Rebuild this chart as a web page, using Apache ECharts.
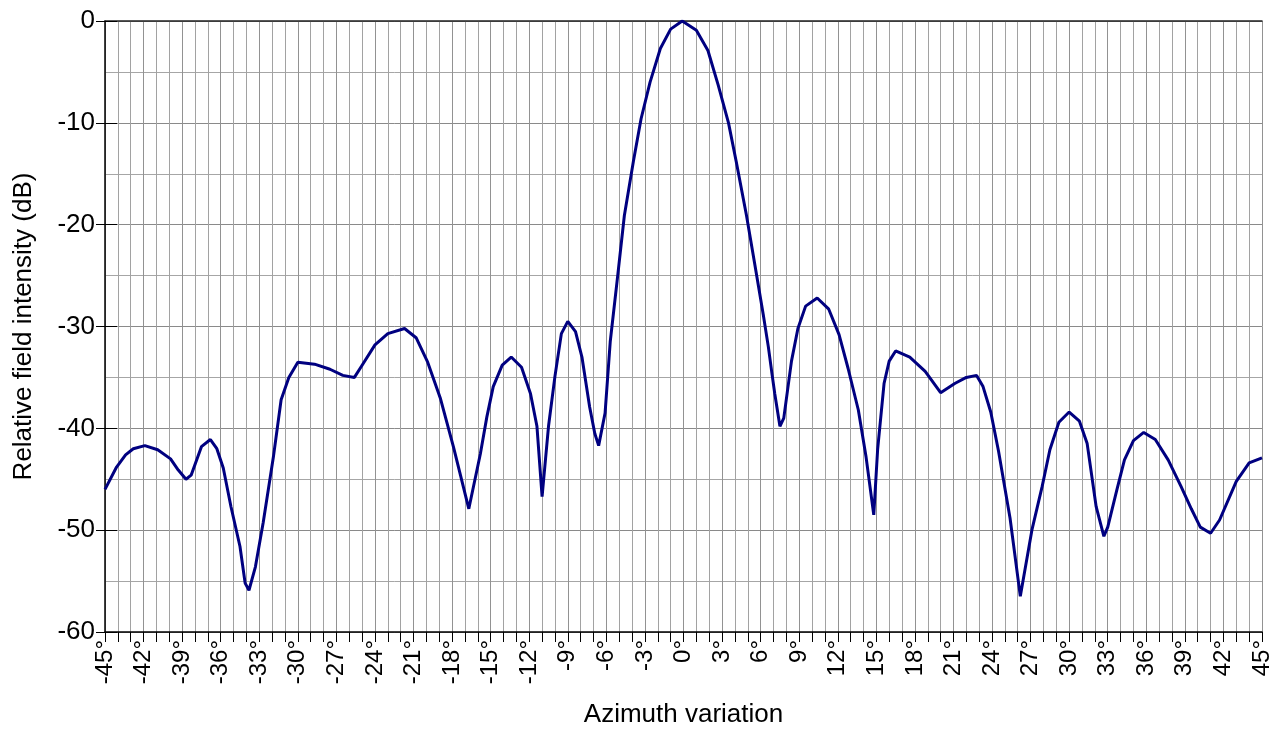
<!DOCTYPE html>
<html>
<head>
<meta charset="utf-8">
<script src="https://cdn.jsdelivr.net/npm/echarts@6/dist/echarts.min.js"></script>
<style>
html,body{margin:0;padding:0;background:#fff;}
#chart{width:1283px;height:729px;}
</style>
</head>
<body>
<div id="chart"></div>
<script>
// Azimuth (degrees)
var azimuth = [
  -45.0,-44.1,-43.4,-42.8,-41.9,-40.9,-39.9,-39.3,-38.7,-38.3,
  -37.5,-36.8,-36.3,-35.8,-35.2,-34.5,-34.1,-33.8,-33.3,-32.7,
  -31.9,-31.3,-30.7,-30.0,-28.7,-27.5,-26.5,-25.6,-25.0,-24.0,
  -23.0,-21.7,-20.8,-19.9,-18.9,-17.9,-16.7,-15.8,-15.3,-14.8,
  -14.1,-13.4,-12.6,-11.9,-11.4,-11.0,-10.5,-10.0,-9.5,-9.0,
  -8.4,-7.9,-7.3,-6.9,-6.6,-6.1,-5.7,-5.1,-4.6,-3.9,
  -3.3,-2.6,-1.8,-1.0,-0.1,1.0,1.9,2.7,3.5,4.1,
  4.9,5.6,6.2,6.6,6.9,7.1,7.5,7.8,8.4,8.9,
  9.5,10.4,11.3,12.1,12.8,13.6,14.2,14.8,15.1,15.6,
  16.0,16.5,17.6,18.8,20.0,21.1,22.0,22.8,23.3,23.9,
  24.5,25.4,26.2,27.1,27.9,28.5,29.2,30.0,30.8,31.4,
  32.1,32.7,33.0,33.7,34.3,35.0,35.8,36.7,37.7,38.7,
  39.5,40.2,41.0,41.7,43.0,44.0,45.0
];
// Relative field intensity (dB)
var intensity = [
  -46.0,-43.8,-42.6,-42.0,-41.7,-42.1,-43.0,-44.1,-45.0,-44.6,
  -41.8,-41.1,-42.0,-43.9,-47.7,-51.6,-55.2,-55.9,-53.6,-49.3,
  -42.8,-37.2,-35.0,-33.5,-33.7,-34.2,-34.8,-35.0,-33.8,-31.8,
  -30.7,-30.2,-31.1,-33.5,-37.1,-41.8,-47.9,-42.5,-38.9,-35.9,
  -33.8,-33.0,-34.0,-36.6,-39.8,-46.7,-39.8,-34.9,-30.7,-29.5,
  -30.5,-33.0,-37.9,-40.5,-41.7,-38.5,-31.5,-24.8,-19.1,-13.8,
  -9.6,-6.0,-2.7,-0.8,0.0,-0.9,-2.9,-6.3,-10.0,-13.8,
  -19.1,-24.3,-28.8,-32.0,-34.8,-36.6,-39.8,-39.0,-33.4,-30.2,
  -28.0,-27.2,-28.3,-30.8,-34.1,-38.2,-42.8,-48.5,-42.1,-35.6,
  -33.4,-32.4,-33.0,-34.4,-36.5,-35.6,-35.0,-34.8,-35.9,-38.4,
  -42.2,-48.8,-56.5,-50.0,-45.7,-42.1,-39.4,-38.4,-39.3,-41.5,
  -47.7,-50.6,-49.7,-46.1,-43.1,-41.2,-40.4,-41.1,-43.1,-45.7,
  -47.9,-49.7,-50.3,-49.0,-45.2,-43.4,-42.9
];
var xMin = -45, xMax = 45, xStep = 3;
var yMin = -60, yMax = 0, yStep = 10;
var xName = 'Azimuth variation';
var yName = 'Relative field intensity (dB)';

var points = azimuth.map(function (a, i) { return [a, intensity[i]]; });
var font = 'Liberation Sans, Arial, sans-serif';

var chart = echarts.init(document.getElementById('chart'), null, {renderer: 'canvas'});
chart.setOption({
  animation: false,
  backgroundColor: '#ffffff',
  grid: {left: 105, right: 21, top: 21, bottom: 97, containLabel: false, outerBoundsMode: 'none'},
  xAxis: [{
    type: 'value', min: xMin, max: xMax, interval: xStep,
    name: xName, nameLocation: 'middle', nameGap: 70,
    nameTextStyle: {fontSize: 26, color: '#000', fontFamily: font},
    axisLine: {show: true, onZero: false, lineStyle: {color: '#000', width: 1.5}},
    axisTick: {show: true, length: 10, lineStyle: {color: '#000', width: 1}},
    minorTick: {show: true, splitNumber: 3, length: 10, lineStyle: {color: '#000', width: 1}},
    axisLabel: {rotate: 90, fontSize: 24, color: '#000', fontFamily: font, margin: 8,
      formatter: function (v) { return v + '°'; }},
    splitLine: {show: true, lineStyle: {color: '#929292', width: 1}},
    minorSplitLine: {show: true, lineStyle: {color: '#a2a2a2', width: 1}}
  }, {
    type: 'value', position: 'top', min: xMin, max: xMax,
    axisLine: {show: true, onZero: false, lineStyle: {color: '#222', width: 1.5}},
    axisTick: {show: false}, axisLabel: {show: false}, splitLine: {show: false}
  }],
  yAxis: [{
    type: 'value', min: yMin, max: yMax, interval: yStep,
    name: yName, nameLocation: 'middle', nameGap: 68,
    nameTextStyle: {fontSize: 26, color: '#000', fontFamily: font},
    axisLine: {show: true, onZero: false, lineStyle: {color: '#000', width: 1.5}},
    axisTick: {show: true, length: 9, lineStyle: {color: '#000', width: 1}},
    minorTick: {show: false, splitNumber: 2},
    axisLabel: {fontSize: 26, color: '#000', fontFamily: font, margin: 10},
    splitLine: {show: true, lineStyle: {color: '#8a8a8a', width: 1}},
    minorSplitLine: {show: true, lineStyle: {color: '#a6a6a6', width: 1}}
  }, {
    type: 'value', position: 'left', offset: 0, min: yMin, max: yMax, interval: yStep,
    axisLine: {show: false, onZero: false},
    axisTick: {show: true, inside: true, length: 12, lineStyle: {color: '#000', width: 1}},
    axisLabel: {show: false}, splitLine: {show: false}
  }],
  series: [{
    type: 'line', data: points, xAxisIndex: 0, yAxisIndex: 0,
    showSymbol: false, symbol: 'none', smooth: false, z: 10,
    lineStyle: {color: '#000080', width: 3}
  }]
});
</script>
</body>
</html>
